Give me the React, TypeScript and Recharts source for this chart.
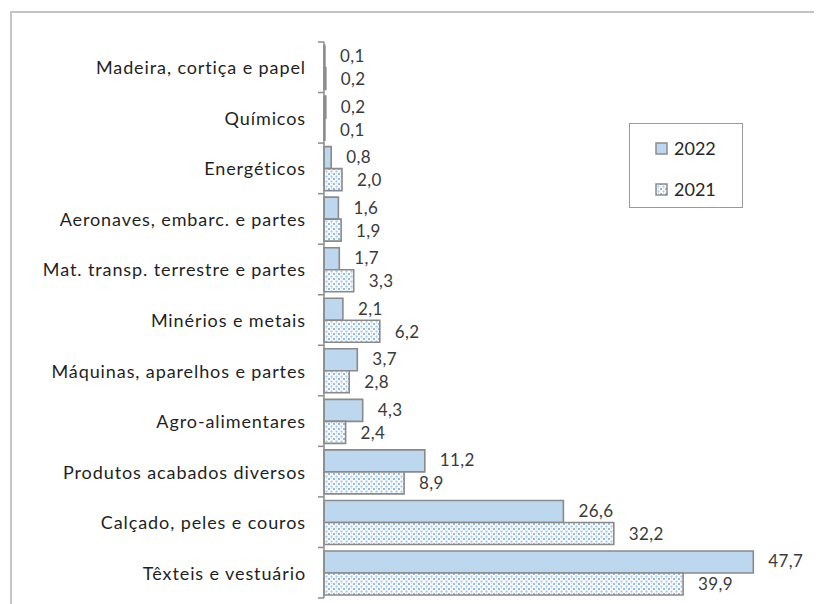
import { BarChart, Bar, XAxis, YAxis, Legend, LabelList } from 'recharts'

const categories = [
  'Madeira, cortiça e papel',
  'Químicos',
  'Energéticos',
  'Aeronaves, embarc. e partes',
  'Mat. transp. terrestre e partes',
  'Minérios e metais',
  'Máquinas, aparelhos e partes',
  'Agro-alimentares',
  'Produtos acabados diversos',
  'Calçado, peles e couros',
  'Têxteis e vestuário',
]
const values2022 = [0.1, 0.2, 0.8, 1.6, 1.7, 2.1, 3.7, 4.3, 11.2, 26.6, 47.7]
const values2021 = [0.2, 0.1, 2.0, 1.9, 3.3, 6.2, 2.8, 2.4, 8.9, 32.2, 39.9]

const FONT = 'Lato, "Open Sans", sans-serif'
const fmt = (v: number) => v.toFixed(1).replace('.', ',')

const data = categories.map((name, i) => ({ name, y2022: values2022[i], y2021: values2021[i] }))

const CategoryTick = ({ x, y, payload, index, visibleTicksCount }: any) => {
  const axisX = x + 18
  const half = payload.offset ?? 25
  return (
    <g>
      <line x1={axisX - 6} x2={axisX} y1={y - half} y2={y - half} stroke="#8c8c8c" strokeWidth={1.5} />
      {index === visibleTicksCount - 1 && (
        <line x1={axisX - 6} x2={axisX} y1={y + half} y2={y + half} stroke="#8c8c8c" strokeWidth={1.5} />
      )}
      <text x={x} y={y} textAnchor="end" dominantBaseline="central" fontSize={18} letterSpacing={0.9} fontFamily={FONT} fill="#1f1f1f">
        {payload.value}
      </text>
    </g>
  )
}

const valueLabel = (dy: number) => (p: any) => (
  <text x={p.x + p.width + 15} y={p.y + p.height / 2 + dy} dominantBaseline="central" fontSize={17} letterSpacing={0.4} fontFamily={FONT} fill="#3a3a3a">
    {fmt(p.value)}
  </text>
)

const LegendBox = () => (
  <div style={{ width: 114, height: 85, boxSizing: 'border-box', border: '1.5px solid #9a9a9a', background: '#fff', fontFamily: FONT, fontSize: 18, color: '#262626' }}>
    {[
      { label: '2022', fill: '#bdd7ee' },
      { label: '2021', fill: 'url(#dots)' },
    ].map((s, i) => (
      <div key={s.label} style={{ display: 'flex', alignItems: 'center', position: 'absolute', left: 26, top: 14 + i * 41 }}>
        <svg width={13} height={13} style={{ marginRight: 6 }}>
          <rect x={1} y={1} width={11} height={11} fill={s.fill} stroke="#8c8c8c" strokeWidth={1.5} />
        </svg>
        {s.label}
      </div>
    ))}
  </div>
)

export default function App() {
  return (
    <div style={{ position: 'relative', width: 814, height: 596, overflow: 'hidden', background: '#fff' }}>
      <div style={{ position: 'absolute', left: 2, top: 3, width: 900, height: 700, border: '2px solid #c4c4c4' }} />
      <div style={{ position: 'absolute', left: 0, top: 0 }}>
        <BarChart
          width={814}
          height={596}
          data={data}
          layout="vertical"
          margin={{ top: 34, right: 48, bottom: 6, left: 0 }}
          barCategoryGap="7%"
          barGap={0}
        >
          <defs>
            <pattern id="dots" width="5" height="5" patternUnits="userSpaceOnUse">
              <rect width="5" height="5" fill="#ffffff" />
              <rect x="0" y="0" width="2" height="2" fill="#92b9e5" />
              <rect x="2.5" y="2.5" width="2" height="2" fill="#a4c5eb" />
              <rect x="3" y="0" width="1" height="1" fill="#cfe0f4" />
            </pattern>
          </defs>
          <XAxis type="number" domain={[0, 50]} hide />
          <YAxis
            type="category"
            dataKey="name"
            width={316}
            tickLine={false}
            tickSize={6}
            tickMargin={12}
            axisLine={{ stroke: '#8c8c8c', strokeWidth: 1.5 }}
            tick={<CategoryTick />}
            interval={0}
          />
          <Legend
            layout="vertical"
            align="center"
            verticalAlign="middle"
            wrapperStyle={{ left: 621, top: 115, width: 114, height: 85 }}
            content={() => <LegendBox />}
          />
          <Bar dataKey="y2022" name="2022" fill="#bdd7ee" stroke="#8a8a8a" strokeWidth={1.6} isAnimationActive={false}>
            <LabelList dataKey="y2022" content={valueLabel(-1)} />
          </Bar>
          <Bar dataKey="y2021" name="2021" fill="url(#dots)" stroke="#8a8a8a" strokeWidth={1.6} isAnimationActive={false}>
            <LabelList dataKey="y2021" content={valueLabel(0)} />
          </Bar>
        </BarChart>
      </div>
    </div>
  )
}
